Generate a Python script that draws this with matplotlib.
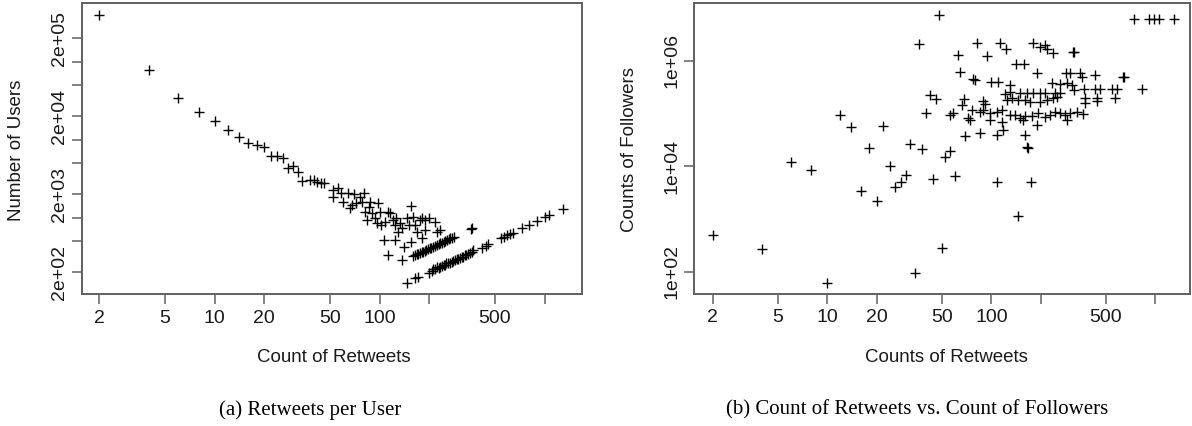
import matplotlib
matplotlib.use("Agg")
import matplotlib.pyplot as plt

# (a) retweets per user -- upper part of the curve
rt_top = [2, 4, 6, 8, 10, 12, 14, 16, 18, 20, 22, 24, 26, 28, 30, 32]
users_top = [398000, 78300, 33900, 22400, 17500, 13300, 10900, 9140, 8540, 7980,
             6170, 6110, 5860, 4290, 4630, 3880]

# the scattered cloud
rt_cloud = [34, 38, 40, 42, 44, 46, 52, 52, 56, 58, 60, 64, 66, 68, 70, 72, 76, 78, 80, 82,
            84, 86, 88, 90, 94, 96, 98, 100, 102, 106, 108, 112, 112, 116, 120, 124, 124, 126,
            130, 132, 136, 136, 140, 146, 150, 156, 156, 160, 164, 168, 176, 180, 180, 188,
            188, 198, 216, 222, 232]
users_cloud = [2950, 3030, 3030, 2890, 2800, 2750, 2260, 1850, 2370, 2090, 1600, 2050, 1310,
               1450, 2010, 1550, 1850, 1600, 2050, 1190, 930, 1380, 1600, 1130, 980, 840, 1520,
               1190, 800, 515, 890, 1190, 331, 1130, 930, 800, 515, 980, 660, 840, 730, 285,
               423, 980, 800, 1410, 490, 1030, 800, 660, 930, 980, 541, 930, 690, 980, 890,
               660, 690]

# the two straight streaks
rt_mid = [160, 164, 168, 172, 176, 180, 184, 188, 192, 196, 202, 206, 212, 218, 222, 228,
          232, 238, 244, 250, 256, 262, 268, 276, 282, 360, 364]
users_mid = [321, 330, 337, 345, 350, 362, 366, 376, 383, 392, 403, 412, 423, 436, 444, 456,
             465, 476, 490, 500, 512, 524, 540, 552, 564, 722, 730]

rt_low = [146, 164, 172, 198, 208, 212, 218, 222, 228, 232, 238, 244, 250, 254, 260, 268,
          274, 280, 288, 294, 300, 306, 314, 322, 330, 336, 344, 352, 362, 370, 416, 440,
          456, 548, 566, 590, 618, 640, 726, 808, 896, 1006, 1068, 1288]
users_low = [143, 166, 174, 196, 206, 216, 220, 230, 226, 234, 240, 246, 248, 258, 262, 264,
             272, 280, 286, 291, 298, 300, 312, 315, 326, 331, 342, 354, 360, 383, 410, 436,
             455, 545, 570, 590, 616, 640, 724, 805, 895, 1005, 1070, 1276]

# (b) retweets vs followers
rt_b = [2, 4, 6, 8, 10, 12, 14, 16, 18, 20, 22, 24, 26,
        28, 30, 32, 34, 36, 38, 40, 42, 44, 46, 48, 50, 52, 56, 60, 108, 146, 164, 168, 174,
        740, 920, 982, 1058, 1300,
        82, 113, 122, 63, 94, 180, 198, 212, 218, 238, 314, 318,
        142, 158, 64, 77, 80, 100, 110, 189, 285, 302, 347, 428, 636, 642, 355,
        130, 233, 262, 288, 309, 319, 367, 428, 460, 542, 586, 825,
        121, 130, 150, 164, 180, 198, 212, 244, 262,
        372, 439, 568, 124, 133, 146, 160, 172, 198, 217, 239, 250, 372, 439,
        66, 68, 89, 92,
        56, 58, 72, 76, 85, 89, 98, 108, 116, 130, 139, 150, 160, 176, 193, 212, 228, 244,
        262, 281, 302, 331, 364,
        74, 98, 116, 157, 189, 288,
        69, 85, 108, 118, 160]
followers_b = [491, 273, 11900, 8510, 60, 94000, 56400, 3400, 22000, 2220, 58200, 10300, 4100,
               5110, 6840, 26500, 93, 2060000, 21000, 104000, 225000, 5740, 187000, 7430000,
               277, 15200, 19800, 6640, 5110, 1140, 23600, 21900, 5110,
               6240000, 6310000, 6310000, 6310000, 6310000,
               2150000, 2150000, 1660000, 1290000, 1240000, 2150000, 1860000, 2000000, 1660000,
               1430000, 1450000, 1450000,
               870000, 870000, 625000, 447000, 430000, 404000, 404000, 600000, 580000, 580000,
               580000, 540000, 500000, 500000, 500000,
               349000, 375000, 360000, 375000, 349000, 280000, 300000, 300000, 300000, 300000,
               300000, 300000,
               235000, 260000, 250000, 242000, 250000, 250000, 242000, 242000, 242000,
               195000, 195000, 195000, 181000, 195000, 181000, 181000, 168000, 168000, 181000,
               195000, 210000, 161000, 176000,
               146000, 187000, 176000, 152000,
               94000, 101000, 81000, 117000, 109000, 117000, 104000, 109000, 117000, 94000,
               94000, 81000, 90000, 90000, 101000, 85000, 94000, 109000, 101000, 94000, 104000,
               109000, 98000,
               76000, 76000, 70000, 76000, 61000, 76000,
               37600, 43500, 39300, 50000, 39300]

W, H = 1192, 426
plt.rcParams['font.family'] = ['Liberation Sans', 'DejaVu Sans']
fig = plt.figure(figsize=(W / 100, H / 100), dpi=100)

frame = '#606060'
mk = dict(marker='+', s=60, color='black', linewidths=1.0)


def style(ax):
    for sp in ax.spines.values():
        sp.set_color(frame)
        sp.set_linewidth(1.4)
    ax.minorticks_off()
    ax.tick_params(which='both', direction='out', length=7, width=1.1, color=frame,
                   labelsize=14, labelcolor='#1a1a1a')
    ax.tick_params(axis='x', pad=4)
    ax.tick_params(axis='y', pad=3)
    for lab in ax.get_yticklabels():
        lab.set_rotation(90)
        lab.set_va('center')


# ---- (a)
ax1 = fig.add_axes([81.7 / W, 1 - 294.3 / H, 500 / W, 291 / H])
ax1.scatter(rt_top, users_top, **mk)
ax1.scatter(rt_cloud, users_cloud, **mk)
ax1.scatter(rt_mid, users_mid, **mk)
ax1.scatter(rt_low, users_low, **mk)
ax1.set_xscale('log')
ax1.set_yscale('log')
ax1.set_xlim(10 ** 0.194, 10 ** 3.225)
ax1.set_ylim(10 ** 2.015, 10 ** 5.75)
ax1.set_xticks([2, 5, 10, 20, 50, 100, 200, 500, 1000])
ax1.set_xticklabels(['2', '5', '10', '20', '50', '100', '', '500', ''])
ax1.set_yticks([200, 500, 1000, 2000, 5000, 10000, 20000, 50000, 100000, 200000])
ax1.set_yticklabels(['2e+02', '', '', '2e+03', '', '', '2e+04', '', '', '2e+05'])
style(ax1)

# ---- (b)
ax2 = fig.add_axes([694.3 / W, 1 - 294 / H, 495.7 / W, 290.7 / H])
ax2.scatter(rt_b, followers_b, **mk)
ax2.set_xscale('log')
ax2.set_yscale('log')
ax2.set_xlim(10 ** 0.189, 10 ** 3.211)
ax2.set_ylim(10 ** 1.577, 10 ** 7.095)
ax2.set_xticks([2, 5, 10, 20, 50, 100, 200, 500, 1000])
ax2.set_xticklabels(['2', '5', '10', '20', '50', '100', '', '500', ''])
ax2.set_yticks([100, 10000, 1000000])
ax2.set_yticklabels(['1e+02', '1e+04', '1e+06'])
style(ax2)

# axis titles and captions
lab = dict(fontsize=13.5, color='#1a1a1a', ha='center', va='center')
fig.text(334 / W, 1 - 357 / H, 'Count of Retweets', **lab)
fig.text(946 / W, 1 - 357 / H, 'Counts of Retweets', **lab)
fig.text(17 / W, 1 - 150 / H, 'Number of Users', rotation=90, **lab)
fig.text(629 / W, 1 - 150 / H, 'Counts of Followers', rotation=90, **lab)

cap = dict(fontsize=15, family='Liberation Serif', ha='center', va='center')
fig.text(310 / W, 1 - 410 / H, '(a) Retweets per User', **cap)
fig.text(917 / W, 1 - 410 / H, '(b) Count of Retweets vs. Count of Followers', **cap)

fig.savefig('out.png', dpi=100)
